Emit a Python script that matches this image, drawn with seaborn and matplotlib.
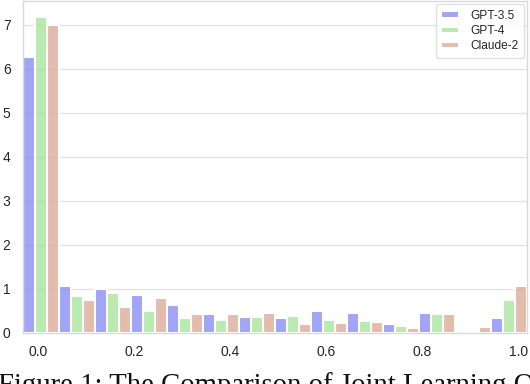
import numpy as np
import pandas as pd
import matplotlib
matplotlib.use("Agg")
import matplotlib.pyplot as plt
import seaborn as sns

# ---- data (density per bin) ----
models = ["GPT-3.5", "GPT-4", "Claude-2"]
gpt35 = [6.27, 1.05, 0.98, 0.85, 0.62, 0.41, 0.36, 0.32, 0.48, 0.45, 0.20, 0.45, 0.00, 0.32]
gpt4 = [7.18, 0.82, 0.89, 0.50, 0.34, 0.29, 0.36, 0.38, 0.29, 0.27, 0.15, 0.41, 0.04, 0.75]
claude2 = [7.00, 0.75, 0.59, 0.78, 0.43, 0.43, 0.45, 0.20, 0.22, 0.25, 0.11, 0.43, 0.13, 1.05]
xticks = [0.0, 0.2, 0.4, 0.6, 0.8, 1.0]
yticks = [0, 1, 2, 3, 4, 5, 6, 7]
caption = "Figure 1: The Comparison of Joint Learning Q"

# ---- build long-form table ----
edges = np.linspace(-0.032, 1.018, len(gpt35) + 1)
centers = (edges[:-1] + edges[1:]) / 2
series = {"GPT-3.5": gpt35, "GPT-4": gpt4, "Claude-2": claude2}
rows = []
for m in models:
    for c, v in zip(centers, series[m]):
        rows.append({"x": c, "w": v, "model": m})
df = pd.DataFrame(rows)

sns.set_theme(style="whitegrid")
plt.rcParams["font.family"] = ["Liberation Sans", "DejaVu Sans"]

fig = plt.figure(figsize=(5.30, 3.84), dpi=100)
ax = fig.add_axes([23 / 530, 1 - 332.5 / 384, 504 / 530, 331.5 / 384])

palette = {"GPT-3.5": "#8287f5", "GPT-4": "#a2e494", "Claude-2": "#dba693"}
sns.histplot(data=df, x="x", weights="w", hue="model", hue_order=models,
             bins=[float(e) for e in edges], multiple="dodge", shrink=1, stat="count",
             palette=palette, alpha=0.75, edgecolor="white", linewidth=1.5,
             ax=ax)

ax.set_xlim(edges[0], edges[-1])
ax.set_xticks(xticks)
ax.set_xticklabels([f"{t:.1f}" for t in xticks])
ax.set_yticks(yticks)
ax.set_xlabel("")
ax.set_ylabel("")
ax.grid(axis="x", visible=False)
ax.grid(axis="y", color="#e3e3e3", linewidth=1.0)
ax.tick_params(axis="both", labelsize=10, colors="#262626", pad=3)
for s in ax.spines.values():
    s.set_color("#d9d9d9")
    s.set_linewidth(1.0)

sns.move_legend(ax, "upper right", title=None, fontsize=8.6, frameon=True,
                bbox_to_anchor=(0.999, 0.997), borderaxespad=0.2,
                labelspacing=0.28, handleheight=0.45, handlelength=1.5,
                handletextpad=0.95, borderpad=0.45)
leg = ax.get_legend()
leg.get_frame().set_edgecolor("#d9d9d9")

fig.text(-0.004, -0.024, caption, family="Liberation Serif", fontsize=20.7,
         ha="left", va="baseline", color="#111111")

fig.savefig("out.png", dpi=100)
